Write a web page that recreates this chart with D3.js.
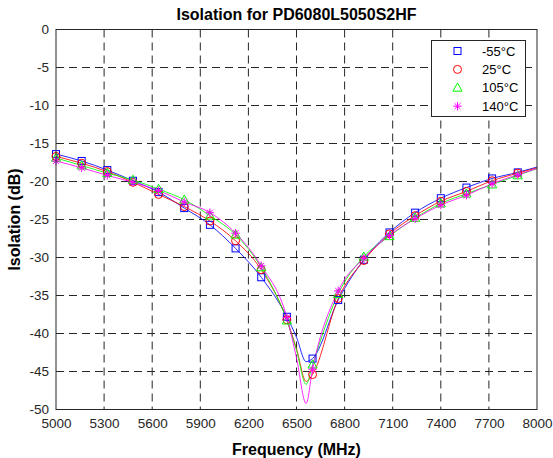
<!DOCTYPE html>
<html>
<head>
<meta charset="utf-8">
<script src="https://cdn.jsdelivr.net/npm/d3@7"></script>
<style>
  html, body { margin: 0; padding: 0; background: #fff; }
  svg { display: block; font-family: "Liberation Sans", Arial, Helvetica, sans-serif; }
</style>
</head>
<body>
<svg id="chart" width="553" height="458"></svg>
<script>
// ---- data ----
const title = "Isolation for PD6080L5050S2HF";
const xLabel = "Frequency (MHz)";
const yLabel = "Isolation (dB)";
const xTicks = [5000, 5300, 5600, 5900, 6200, 6500, 6800, 7100, 7400, 7700, 8000];
const yTicks = [0, -5, -10, -15, -20, -25, -30, -35, -40, -45, -50];
const seriesNames = ["-55°C", "25°C", "105°C", "140°C"];

// frequencies of the measured points (MHz)
const freqs = [5000, 5160, 5320, 5480, 5640, 5800, 5960, 6120, 6280, 6440, 6500, 6560,
               6600, 6760, 6920, 7080, 7240, 7400, 7560, 7720, 7880, 8000];
// frequencies where a marker is shown
const markerFreqs = [5000, 5160, 5320, 5480, 5640, 5800, 5960, 6120, 6280, 6440,
                     6600, 6760, 6920, 7080, 7240, 7400, 7560, 7720, 7880];

const isoM55 = [-16.4, -17.3, -18.5, -19.9, -21.4, -23.5, -25.7, -28.8, -32.6, -37.8, -40.5, -43.7,
                -43.3, -35.6, -30.3, -26.7, -24.1, -22.2, -20.8, -19.6, -18.8, -18.1];
const iso25  = [-16.7, -17.6, -18.7, -20.1, -21.7, -23.3, -25.2, -27.8, -31.6, -38.2, -42.0, -46.3,
                -45.4, -35.4, -30.4, -26.9, -24.5, -22.6, -21.3, -19.9, -18.9, -18.2];
const iso105 = [-16.9, -17.9, -18.9, -19.8, -21.0, -22.4, -24.5, -27.0, -31.3, -38.3, -42.2, -46.7,
                -44.1, -34.8, -29.9, -27.2, -24.8, -22.9, -21.6, -20.4, -19.2, -18.3];
const iso140 = [-17.3, -18.2, -19.2, -20.1, -21.2, -22.7, -24.1, -26.8, -31.1, -37.9, -43.2, -49.2,
                -44.7, -34.4, -30.1, -27.1, -24.9, -23.1, -21.8, -20.3, -19.1, -18.3];

const seriesValues = [isoM55, iso25, iso105, iso140];
const seriesColors = ["#0000ff", "#ff0000", "#00ff00", "#ff00ff"];
const seriesMarkers = ["square", "circle", "triangle", "star"];

// ---- layout ----
const svg = d3.select("#chart");
const L = 56, R = 537, T = 29.5, B = 409.5;
const x = d3.scaleLinear().domain([5000, 8000]).range([L, R]);
const y = d3.scaleLinear().domain([-50, 0]).range([B, T]);
const FONT = "\"Liberation Sans\", Arial, Helvetica, sans-serif";

// grid
const grid = svg.append("g");
xTicks.slice(1, -1).forEach(t => {
  grid.append("line").attr("x1", x(t)).attr("x2", x(t)).attr("y1", T).attr("y2", B)
    .attr("stroke", "#262626").attr("stroke-width", 1).attr("stroke-dasharray", "8,5");
});
yTicks.slice(1, -1).forEach(t => {
  grid.append("line").attr("x1", L).attr("x2", R).attr("y1", y(t)).attr("y2", y(t))
    .attr("stroke", "#262626").attr("stroke-width", 1).attr("stroke-dasharray", "8,5");
});

// axes (D3 axes, ticks hidden, labels only)
const xAxis = d3.axisBottom(x).tickValues(xTicks).tickFormat(d3.format("d")).tickSize(0).tickPadding(9);
const yAxis = d3.axisLeft(y).tickValues(yTicks).tickFormat(d => d3.format("d")(d).replace("−", "-")).tickSize(0).tickPadding(7);
const gx = svg.append("g").attr("transform", `translate(0,${B})`).call(xAxis);
const gy = svg.append("g").attr("transform", `translate(${L},0)`).call(yAxis);
[gx, gy].forEach(g => {
  g.select(".domain").remove();
  g.selectAll("text").attr("font-family", FONT).attr("font-size", 13.5).attr("fill", "#262626");
});

// plot lines
const clip = svg.append("clipPath").attr("id", "clip").append("rect")
  .attr("x", L).attr("y", T).attr("width", R - L).attr("height", B - T);
const line = d3.line().x(d => x(d[0])).y(d => y(d[1])).curve(d3.curveMonotoneX);

const plot = svg.append("g").attr("clip-path", "url(#clip)");
seriesValues.forEach((vals, i) => {
  const pts = freqs.map((f, j) => [f, vals[j]]);
  plot.append("path").datum(pts).attr("d", line)
    .attr("fill", "none").attr("stroke", seriesColors[i]).attr("stroke-width", 1)
    .attr("stroke-opacity", 0.85);
});

// markers
function drawMarker(g, type, cx, cy, color) {
  if (type === "square") {
    g.append("rect").attr("x", cx - 3.5).attr("y", cy - 3.5).attr("width", 7).attr("height", 7)
      .attr("fill", "none").attr("stroke", color).attr("stroke-width", 1);
  } else if (type === "circle") {
    g.append("circle").attr("cx", cx).attr("cy", cy).attr("r", 4)
      .attr("fill", "none").attr("stroke", color).attr("stroke-width", 1);
  } else if (type === "triangle") {
    g.append("path").attr("d", `M${cx},${cy - 4.8}L${cx + 4.6},${cy + 3.4}L${cx - 4.6},${cy + 3.4}Z`)
      .attr("fill", "none").attr("stroke", color).attr("stroke-width", 1);
  } else if (type === "star") {
    const r = 4.2, d = r * 0.7071;
    g.append("path").attr("d",
      `M${cx - r},${cy}L${cx + r},${cy}M${cx},${cy - r}L${cx},${cy + r}` +
      `M${cx - d},${cy - d}L${cx + d},${cy + d}M${cx - d},${cy + d}L${cx + d},${cy - d}`)
      .attr("fill", "none").attr("stroke", color).attr("stroke-width", 1);
  }
}
const mg = svg.append("g");
seriesValues.forEach((vals, i) => {
  markerFreqs.forEach(f => {
    const j = freqs.indexOf(f);
    drawMarker(mg, seriesMarkers[i], x(f), y(vals[j]), seriesColors[i]);
  });
});

// axes box
svg.append("rect").attr("x", L).attr("y", T).attr("width", R - L).attr("height", B - T)
  .attr("fill", "none").attr("stroke", "#262626").attr("stroke-width", 1);

// legend
const lg = svg.append("g");
const lx = 431.5, ly = 40.5, lw = 94, lh = 76;
lg.append("rect").attr("x", lx).attr("y", ly).attr("width", lw).attr("height", lh)
  .attr("fill", "#fff").attr("stroke", "#262626").attr("stroke-width", 1);
seriesNames.forEach((name, i) => {
  const cy = 51 + i * 18.4;
  drawMarker(lg, seriesMarkers[i], 457.5, cy, seriesColors[i]);
  lg.append("text").attr("x", 482).attr("y", cy).attr("dy", "0.36em")
    .attr("font-family", FONT).attr("font-size", 13).attr("fill", "#000").text(name);
});

// title & labels
svg.append("text").attr("x", (L + R) / 2).attr("y", 19.5).attr("text-anchor", "middle")
  .attr("font-family", FONT).attr("font-size", 16).attr("font-weight", "bold").attr("fill", "#000")
  .text(title);
svg.append("text").attr("x", (L + R) / 2).attr("y", 455).attr("text-anchor", "middle")
  .attr("font-family", FONT).attr("font-size", 16).attr("font-weight", "bold").attr("fill", "#000")
  .text(xLabel);
svg.append("text").attr("transform", `translate(20,${(T + B) / 2}) rotate(-90)`).attr("text-anchor", "middle")
  .attr("font-family", FONT).attr("font-size", 16).attr("font-weight", "bold").attr("fill", "#000")
  .text(yLabel);
</script>
</body>
</html>
